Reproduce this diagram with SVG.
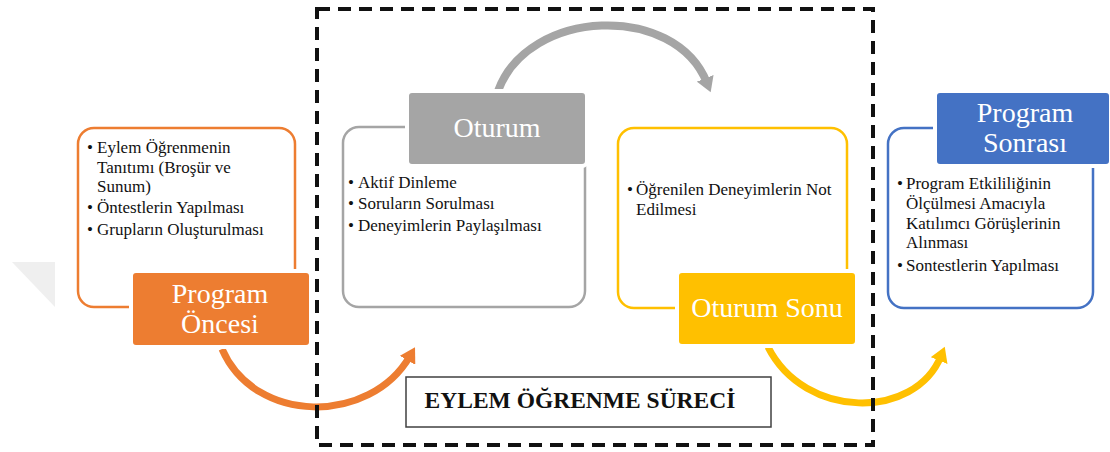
<svg xmlns="http://www.w3.org/2000/svg" width="1110" height="452" viewBox="0 0 1110 452">
<style>
.outline{fill:#fff;stroke-width:2.5}
.head{stroke:#fff;stroke-width:4}
.body{font-family:"Liberation Serif","Times New Roman",serif;font-size:17px;fill:#111}
.title{font-family:"Liberation Serif","Times New Roman",serif;font-size:28px;fill:#fff;text-anchor:middle}
.arc{fill:none}
</style>
<defs>
<marker id="mOrange" markerUnits="userSpaceOnUse" markerWidth="16" markerHeight="18" refX="5" refY="9" orient="auto"><path d="M0,0 L15,9 L0,18 Z" fill="#ED7D31"/></marker>
<marker id="mGray" markerUnits="userSpaceOnUse" markerWidth="16" markerHeight="18" refX="5" refY="9" orient="auto"><path d="M0,0 L15,9 L0,18 Z" fill="#A5A5A5"/></marker>
<marker id="mYellow" markerUnits="userSpaceOnUse" markerWidth="16" markerHeight="18" refX="5" refY="9" orient="auto"><path d="M0,0 L15,9 L0,18 Z" fill="#FFC000"/></marker>
</defs>
<rect width="1110" height="452" fill="#fff"/>
<polygon points="12,262 55,262 55,307" fill="#efefef"/>

<g id="connectors">
<path class="arc" d="M 222 349 C 255 425, 370 425, 410 356" stroke="#ED7D31" stroke-width="7" marker-end="url(#mOrange)"/>
<path class="arc" d="M 498 91 C 528 8, 675 2, 707 83" stroke="#A5A5A5" stroke-width="8" marker-end="url(#mGray)"/>
<path class="arc" d="M 768 347 C 805 420, 915 420, 941 356" stroke="#FFC000" stroke-width="7" marker-end="url(#mYellow)"/>
</g>

<g id="program-oncesi">
<rect class="outline" x="78" y="128" width="217" height="179" rx="16" stroke="#ED7D31"/>
<text class="body" x="87" y="153">•</text>
<text class="body" x="97" y="153">Eylem Öğrenmenin</text>
<text class="body" x="97" y="173">Tanıtımı (Broşür ve</text>
<text class="body" x="97" y="192">Sunum)</text>
<text class="body" x="87" y="213">•</text>
<text class="body" x="97" y="213">Öntestlerin Yapılması</text>
<text class="body" x="87" y="235">•</text>
<text class="body" x="97" y="235">Grupların Oluşturulması</text>
<rect class="head" x="131" y="271" width="180" height="76" rx="5" fill="#ED7D31"/>
<text class="title" x="220" y="303">Program</text>
<text class="title" x="220" y="333">Öncesi</text>
</g>

<g id="oturum">
<rect class="outline" x="343" y="127" width="242" height="180" rx="16" stroke="#A5A5A5"/>
<text class="body" x="348" y="188">•</text>
<text class="body" x="358" y="188">Aktif Dinleme</text>
<text class="body" x="348" y="209">•</text>
<text class="body" x="358" y="209">Soruların Sorulması</text>
<text class="body" x="348" y="231">•</text>
<text class="body" x="358" y="231">Deneyimlerin Paylaşılması</text>
<rect class="head" x="407" y="91" width="180" height="75" rx="5" fill="#A5A5A5"/>
<text class="title" x="497" y="137">Oturum</text>
</g>

<g id="oturum-sonu">
<rect class="outline" x="618" y="128" width="229" height="180" rx="16" stroke="#FFC000"/>
<text class="body" x="627" y="195">•</text>
<text class="body" x="636" y="195">Öğrenilen Deneyimlerin Not</text>
<text class="body" x="636" y="215">Edilmesi</text>
<rect class="head" x="677" y="271" width="180" height="75" rx="5" fill="#FFC000"/>
<text class="title" x="767" y="317">Oturum Sonu</text>
</g>

<g id="program-sonrasi">
<rect class="outline" x="888" y="128" width="205" height="180" rx="16" stroke="#4472C4"/>
<text class="body" x="897" y="189">•</text>
<text class="body" x="906" y="189">Program Etkililiğinin</text>
<text class="body" x="906" y="209">Ölçülmesi Amacıyla</text>
<text class="body" x="906" y="229">Katılımcı Görüşlerinin</text>
<text class="body" x="906" y="248">Alınması</text>
<text class="body" x="897" y="271">•</text>
<text class="body" x="906" y="271">Sontestlerin Yapılması</text>
<rect class="head" x="935" y="91" width="176" height="75" rx="5" fill="#4472C4"/>
<text class="title" x="1025" y="122">Program</text>
<text class="title" x="1025" y="152">Sonrası</text>
</g>

<g id="surec">
<rect x="317" y="9" width="556" height="436" fill="none" stroke="#111" stroke-width="4" stroke-dasharray="13,8"/>
<rect x="406" y="377" width="365" height="50" fill="#fff" stroke="#404040" stroke-width="1.5"/>
<text x="580" y="408" text-anchor="middle" style="font-family:'Liberation Serif','Times New Roman',serif;font-size:23.5px;font-weight:bold;fill:#111">EYLEM ÖĞRENME SÜRECİ</text>
</g>
</svg>
